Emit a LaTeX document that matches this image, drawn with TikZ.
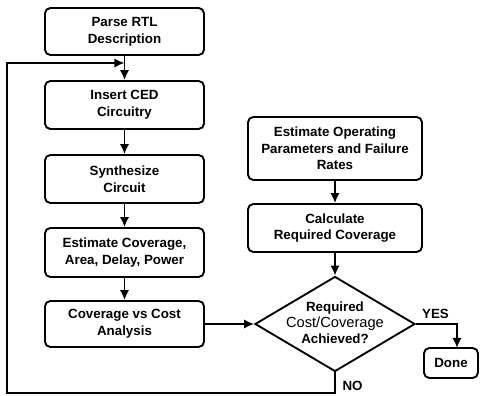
\documentclass[tikz,border=0pt]{standalone}
\usepackage{fontspec}
\setmainfont{Liberation Sans}
\usetikzlibrary{arrows.meta,shapes.geometric}
\begin{document}
\begin{tikzpicture}[x=0.75pt,y=-0.75pt,
  box/.style={draw,line width=1.4pt,rounded corners=4pt,align=center,font=\bfseries\fontsize{10}{12.5}\selectfont,inner sep=0pt},
  leftbox/.style={box,minimum width=119.25pt,minimum height=36pt},
  rightbox/.style={box,minimum width=130.5pt,minimum height=36pt},
  arr/.style={line width=1.4pt,-{Latex[length=7.5pt,width=7pt]}},
  lbl/.style={font=\bfseries\fontsize{10}{12}\selectfont,inner sep=0pt}]
\useasboundingbox (0,0) rectangle (480,396);
\node[leftbox,minimum height=35.25pt] (parse) at (124.5,31.5) {Parse RTL\\Description};
\node[leftbox] (insert) at (124.5,105) {Insert CED\\Circuitry};
\node[leftbox] (synth) at (124.5,179) {Synthesize\\Circuit};
\node[leftbox,minimum height=36.75pt] (estcov) at (124.5,252.5) {Estimate Coverage,\\Area, Delay, Power};
\node[leftbox,minimum height=34.5pt] (covcost) at (124.5,324) {Coverage vs Cost\\Analysis};
\node[rightbox,minimum height=47.25pt] (estop) at (335,148.5) {Estimate Operating\\Parameters and Failure\\Rates};
\node[rightbox] (calc) at (335,228) {Calculate\\Required Coverage};
\node[draw,diamond,line width=1.4pt,minimum width=120pt,minimum height=71.25pt,inner sep=0pt] (dec) at (335,324) {};
\node[align=center,inner sep=0pt] (dectext) at (335,323) {{\bfseries\fontsize{10}{12.5}\selectfont Required}\\{\fontsize{11}{12.5}\selectfont Cost/Coverage}\\{\bfseries\fontsize{10}{12.5}\selectfont Achieved?}};
\node[box,minimum width=40.5pt,minimum height=22.5pt] (done) at (451,363) {Done};
\node[lbl] (yes) at (435.5,313.5) {YES};
\node[lbl] (no) at (352.5,385.5) {NO};
\coordinate (fbbot) at (7,393);
\coordinate (fbtop) at (124.5,63);
\coordinate (yesdrop) at (457,348);
\draw[arr] (parse) -- (insert);
\draw[arr] (insert) -- (synth);
\draw[arr] (synth) -- (estcov);
\draw[arr] (estcov) -- (covcost);
\draw[arr] (estop) -- (calc);
\draw[arr] (calc) -- (dec);
\draw[arr] (covcost.east) -- (dec.west);
\draw[arr] (dec.east) -| (yesdrop);
\draw[arr] (dec.south) |- (fbbot) |- (fbtop);
\end{tikzpicture}
\end{document}
